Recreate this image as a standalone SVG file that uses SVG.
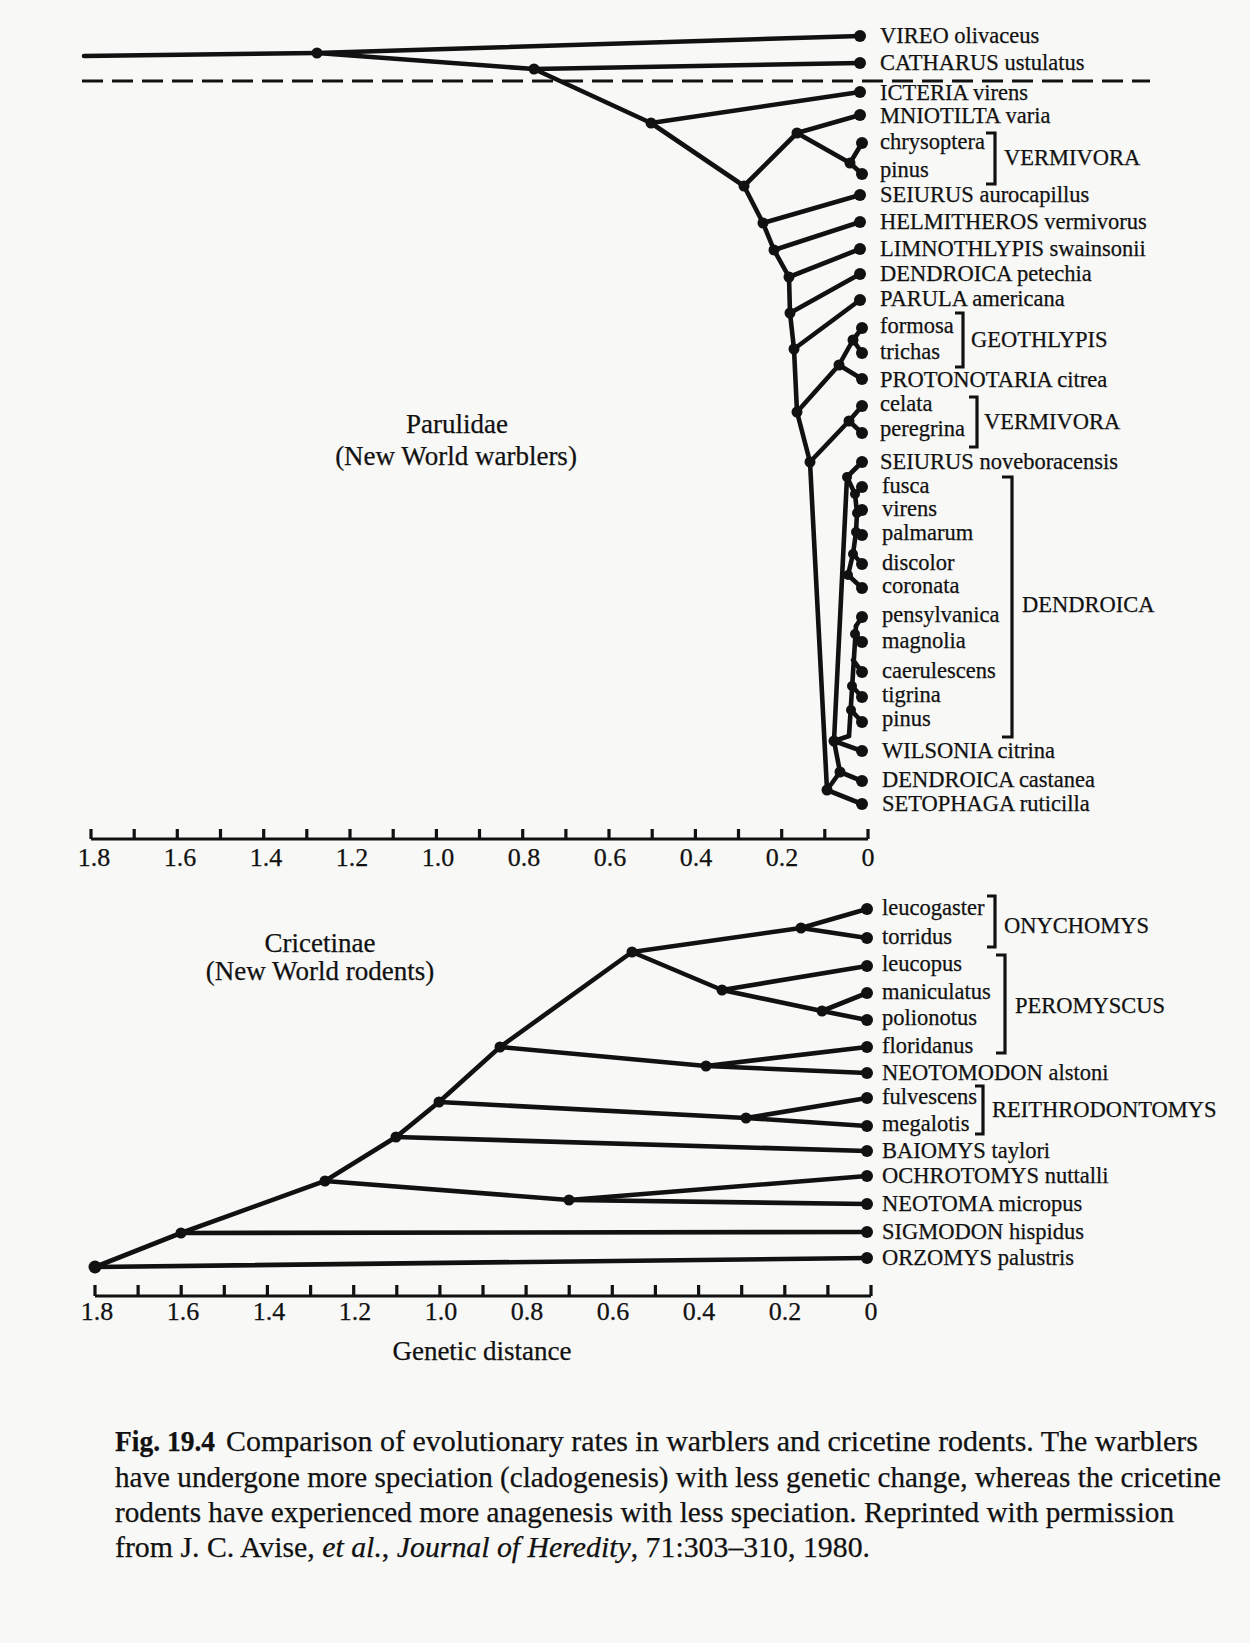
<svg xmlns="http://www.w3.org/2000/svg" width="1250" height="1643" viewBox="0 0 1250 1643">
<defs>
<style>
.e{stroke:#111;stroke-width:4.6;stroke-linecap:round;fill:none}
.ax{stroke:#111;stroke-width:3.2;fill:none}
.bk{stroke:#111;stroke-width:3.2;fill:none}
.d{fill:#111}
text{font-family:"Liberation Serif","Times New Roman",serif;fill:#111;stroke:#111;stroke-width:0.25}
.lb{font-size:22.5px}
.gn{font-size:22.5px}
.tk{font-size:26px;text-anchor:middle}
.ti{font-size:27px;text-anchor:middle}
.cap{font-size:29px}
</style>
</defs>
<rect width="1250" height="1643" fill="#f8f8f6"/>

<g id="connectors">
<!-- warbler tree -->
<line class="e" x1="84" y1="56" x2="317" y2="53"/>
<line class="e" x1="317" y1="53" x2="860" y2="36"/>
<line class="e" x1="317" y1="53" x2="534" y2="69"/>
<line class="e" x1="534" y1="69" x2="860" y2="63"/>
<line class="e" x1="534" y1="69" x2="651" y2="123"/>
<line class="e" x1="651" y1="123" x2="860" y2="92"/>
<line class="e" x1="651" y1="123" x2="744" y2="186"/>
<line class="e" x1="744" y1="186" x2="797" y2="133"/>
<line class="e" x1="797" y1="133" x2="860" y2="115"/>
<line class="e" x1="797" y1="133" x2="850" y2="163"/>
<line class="e" x1="850" y1="163" x2="862" y2="143"/>
<line class="e" x1="850" y1="163" x2="862" y2="174"/>
<line class="e" x1="744" y1="186" x2="763" y2="223"/>
<line class="e" x1="763" y1="223" x2="860" y2="195"/>
<line class="e" x1="763" y1="223" x2="774" y2="250"/>
<line class="e" x1="774" y1="250" x2="860" y2="222"/>
<line class="e" x1="774" y1="250" x2="789" y2="277"/>
<line class="e" x1="789" y1="277" x2="860" y2="249"/>
<line class="e" x1="789" y1="277" x2="790" y2="313"/>
<line class="e" x1="790" y1="313" x2="860" y2="274"/>
<line class="e" x1="790" y1="313" x2="794" y2="349"/>
<line class="e" x1="794" y1="349" x2="860" y2="300"/>
<line class="e" x1="794" y1="349" x2="797" y2="412"/>
<line class="e" x1="797" y1="412" x2="839" y2="365"/>
<line class="e" x1="839" y1="365" x2="853" y2="340"/>
<line class="e" x1="853" y1="340" x2="862" y2="328"/>
<line class="e" x1="853" y1="340" x2="862" y2="353"/>
<line class="e" x1="839" y1="365" x2="862" y2="379"/>
<line class="e" x1="797" y1="412" x2="810" y2="462"/>
<line class="e" x1="810" y1="462" x2="849" y2="421"/>
<line class="e" x1="849" y1="421" x2="862" y2="406"/>
<line class="e" x1="849" y1="421" x2="862" y2="433"/>
<line class="e" x1="810" y1="462" x2="827" y2="790"/>
<line class="e" x1="847" y1="477" x2="862" y2="462"/>
<line class="e" x1="847" y1="477" x2="834" y2="741"/>
<polyline class="e" points="847,477 855,494 857,513 856,532 853,554 848,575"/>
<line class="e" x1="855" y1="494" x2="862" y2="487"/>
<line class="e" x1="857" y1="513" x2="862" y2="510"/>
<line class="e" x1="856" y1="532" x2="862" y2="535"/>
<line class="e" x1="853" y1="554" x2="862" y2="564"/>
<line class="e" x1="848" y1="575" x2="862" y2="588"/>
<line class="e" x1="856" y1="626" x2="862" y2="617"/>
<line class="e" x1="856" y1="626" x2="849" y2="736"/>
<line class="e" x1="855" y1="634" x2="862" y2="642"/>
<line class="e" x1="853" y1="660" x2="862" y2="672"/>
<line class="e" x1="852" y1="686" x2="862" y2="697"/>
<line class="e" x1="851" y1="710" x2="862" y2="722"/>
<line class="e" x1="834" y1="741" x2="849" y2="736"/>
<line class="e" x1="834" y1="741" x2="862" y2="751"/>
<line class="e" x1="834" y1="741" x2="840" y2="772"/>
<line class="e" x1="840" y1="772" x2="862" y2="781"/>
<line class="e" x1="840" y1="772" x2="827" y2="790"/>
<line class="e" x1="827" y1="790" x2="862" y2="804"/>
<!-- rodent tree -->
<polyline class="e" points="95,1267 181,1233 325,1181 396,1137 439,1102 500,1047 632,952"/>
<line class="e" x1="95" y1="1267" x2="867" y2="1258"/>
<line class="e" x1="181" y1="1233" x2="867" y2="1232"/>
<line class="e" x1="325" y1="1181" x2="569" y2="1200"/>
<line class="e" x1="569" y1="1200" x2="867" y2="1176"/>
<line class="e" x1="569" y1="1200" x2="867" y2="1204"/>
<line class="e" x1="396" y1="1137" x2="867" y2="1151"/>
<line class="e" x1="439" y1="1102" x2="746" y2="1118"/>
<line class="e" x1="746" y1="1118" x2="867" y2="1098"/>
<line class="e" x1="746" y1="1118" x2="867" y2="1126"/>
<line class="e" x1="500" y1="1047" x2="706" y2="1066"/>
<line class="e" x1="706" y1="1066" x2="867" y2="1047"/>
<line class="e" x1="706" y1="1066" x2="867" y2="1073"/>
<line class="e" x1="632" y1="952" x2="801" y2="928"/>
<line class="e" x1="801" y1="928" x2="867" y2="909"/>
<line class="e" x1="801" y1="928" x2="867" y2="938"/>
<line class="e" x1="632" y1="952" x2="722" y2="990"/>
<line class="e" x1="722" y1="990" x2="867" y2="966"/>
<line class="e" x1="722" y1="990" x2="822" y2="1011"/>
<line class="e" x1="822" y1="1011" x2="867" y2="993"/>
<line class="e" x1="822" y1="1011" x2="867" y2="1020"/>
</g>

<!-- dashed separator -->
<g id="separator">
<line x1="82" y1="81" x2="1150" y2="81" stroke="#111" stroke-width="3.2" stroke-dasharray="21,9"/>
</g>

<!-- internal nodes, warblers -->
<g id="w-internal" class="d">
<circle cx="317" cy="53" r="5.5"/><circle cx="534" cy="69" r="5.5"/><circle cx="651" cy="123" r="5.5"/>
<circle cx="744" cy="186" r="5.5"/><circle cx="797" cy="133" r="5.5"/><circle cx="850" cy="163" r="5.5"/>
<circle cx="763" cy="223" r="5.5"/><circle cx="774" cy="250" r="5.5"/><circle cx="789" cy="277" r="5.5"/>
<circle cx="790" cy="313" r="5.5"/><circle cx="794" cy="349" r="5.5"/><circle cx="797" cy="412" r="5.5"/>
<circle cx="839" cy="365" r="5.5"/><circle cx="853" cy="340" r="5.5"/><circle cx="810" cy="462" r="5.5"/>
<circle cx="849" cy="421" r="5.5"/><circle cx="847" cy="477" r="5"/>
<circle cx="855" cy="494" r="5"/><circle cx="857" cy="513" r="5"/><circle cx="856" cy="532" r="5"/>
<circle cx="853" cy="554" r="5"/><circle cx="848" cy="575" r="5"/>
<circle cx="855" cy="634" r="5"/><circle cx="852" cy="686" r="5"/><circle cx="851" cy="710" r="5"/>
<circle cx="834" cy="741" r="5.5"/><circle cx="840" cy="772" r="5.5"/><circle cx="827" cy="790" r="5.5"/>
</g>

<!-- warbler leaves -->
<g id="vireo"><circle class="d" cx="860" cy="36" r="6"/><text class="lb" x="880" y="43">VIREO olivaceus</text></g>
<g id="catharus"><circle class="d" cx="860" cy="63" r="6"/><text class="lb" x="880" y="70">CATHARUS ustulatus</text></g>
<g id="icteria"><circle class="d" cx="860" cy="92" r="6"/><text class="lb" x="880" y="100">ICTERIA virens</text></g>
<g id="mniotilta"><circle class="d" cx="860" cy="115" r="6"/><text class="lb" x="880" y="123">MNIOTILTA varia</text></g>
<g id="chrysoptera"><circle class="d" cx="862" cy="143" r="6"/><text class="lb" x="880" y="149">chrysoptera</text></g>
<g id="pinus1"><circle class="d" cx="862" cy="174" r="6"/><text class="lb" x="880" y="177">pinus</text></g>
<g id="seiurus-a"><circle class="d" cx="860" cy="195" r="6"/><text class="lb" x="880" y="202">SEIURUS aurocapillus</text></g>
<g id="helmitheros"><circle class="d" cx="860" cy="222" r="6"/><text class="lb" x="880" y="229">HELMITHEROS vermivorus</text></g>
<g id="limnothlypis"><circle class="d" cx="860" cy="249" r="6"/><text class="lb" x="880" y="256">LIMNOTHLYPIS swainsonii</text></g>
<g id="dendroica-p"><circle class="d" cx="860" cy="274" r="6"/><text class="lb" x="880" y="281">DENDROICA petechia</text></g>
<g id="parula"><circle class="d" cx="860" cy="300" r="6"/><text class="lb" x="880" y="306">PARULA americana</text></g>
<g id="formosa"><circle class="d" cx="862" cy="328" r="6"/><text class="lb" x="880" y="333">formosa</text></g>
<g id="trichas"><circle class="d" cx="862" cy="353" r="6"/><text class="lb" x="880" y="359">trichas</text></g>
<g id="protonotaria"><circle class="d" cx="862" cy="379" r="6"/><text class="lb" x="880" y="387">PROTONOTARIA citrea</text></g>
<g id="celata"><circle class="d" cx="862" cy="406" r="6"/><text class="lb" x="880" y="411">celata</text></g>
<g id="peregrina"><circle class="d" cx="862" cy="433" r="6"/><text class="lb" x="880" y="436">peregrina</text></g>
<g id="seiurus-n"><circle class="d" cx="862" cy="462" r="6"/><text class="lb" x="880" y="469">SEIURUS noveboracensis</text></g>
<g id="fusca"><circle class="d" cx="862" cy="487" r="6"/><text class="lb" x="882" y="493">fusca</text></g>
<g id="virens"><circle class="d" cx="862" cy="510" r="6"/><text class="lb" x="882" y="516">virens</text></g>
<g id="palmarum"><circle class="d" cx="862" cy="535" r="6"/><text class="lb" x="882" y="540">palmarum</text></g>
<g id="discolor"><circle class="d" cx="862" cy="564" r="6"/><text class="lb" x="882" y="570">discolor</text></g>
<g id="coronata"><circle class="d" cx="862" cy="588" r="6"/><text class="lb" x="882" y="593">coronata</text></g>
<g id="pensylvanica"><circle class="d" cx="862" cy="617" r="6"/><text class="lb" x="882" y="622">pensylvanica</text></g>
<g id="magnolia"><circle class="d" cx="862" cy="642" r="6"/><text class="lb" x="882" y="648">magnolia</text></g>
<g id="caerulescens"><circle class="d" cx="862" cy="672" r="6"/><text class="lb" x="882" y="678">caerulescens</text></g>
<g id="tigrina"><circle class="d" cx="862" cy="697" r="6"/><text class="lb" x="882" y="702">tigrina</text></g>
<g id="pinus2"><circle class="d" cx="862" cy="722" r="6"/><text class="lb" x="882" y="726">pinus</text></g>
<g id="wilsonia"><circle class="d" cx="862" cy="751" r="6"/><text class="lb" x="882" y="758">WILSONIA citrina</text></g>
<g id="dendroica-c"><circle class="d" cx="862" cy="781" r="6"/><text class="lb" x="882" y="787">DENDROICA castanea</text></g>
<g id="setophaga"><circle class="d" cx="862" cy="804" r="6"/><text class="lb" x="882" y="811">SETOPHAGA ruticilla</text></g>

<!-- warbler genus brackets -->
<g id="vermivora1"><polyline class="bk" points="986,133 995,133 995,184 986,184"/><text class="gn" x="1004" y="165">VERMIVORA</text></g>
<g id="geothlypis"><polyline class="bk" points="955,313 963,313 963,367 955,367"/><text class="gn" x="971" y="347">GEOTHLYPIS</text></g>
<g id="vermivora2"><polyline class="bk" points="969,397 977,397 977,447 969,447"/><text class="gn" x="984" y="429">VERMIVORA</text></g>
<g id="dendroica"><polyline class="bk" points="1002,477 1012,477 1012,737 1002,737"/><text class="gn" x="1022" y="612">DENDROICA</text></g>

<g id="parulidae-title">
<text class="ti" x="457" y="433">Parulidae</text>
<text class="ti" x="456" y="465">(New World warblers)</text>
</g>

<!-- top axis -->
<g id="axis-top">
<path class="ax" d="M91,839 H868 M91,839 v-10 M134.2,839 v-10 M177.3,839 v-10 M220.5,839 v-10 M263.7,839 v-10 M306.8,839 v-10 M350,839 v-10 M393.2,839 v-10 M436.4,839 v-10 M479.5,839 v-10 M522.7,839 v-10 M565.9,839 v-10 M609,839 v-10 M652.2,839 v-10 M695.4,839 v-10 M738.5,839 v-10 M781.7,839 v-10 M824.8,839 v-10 M868,839 v-10"/>
<text class="tk" x="94" y="866">1.8</text>
<text class="tk" x="180" y="866">1.6</text>
<text class="tk" x="266" y="866">1.4</text>
<text class="tk" x="352" y="866">1.2</text>
<text class="tk" x="438" y="866">1.0</text>
<text class="tk" x="524" y="866">0.8</text>
<text class="tk" x="610" y="866">0.6</text>
<text class="tk" x="696" y="866">0.4</text>
<text class="tk" x="782" y="866">0.2</text>
<text class="tk" x="868" y="866">0</text>
</g>

<!-- rodent internal nodes -->
<g id="r-internal" class="d">
<circle cx="95" cy="1267" r="6.5"/><circle cx="181" cy="1233" r="5.5"/><circle cx="325" cy="1181" r="5.5"/>
<circle cx="396" cy="1137" r="5.5"/><circle cx="439" cy="1102" r="5.5"/><circle cx="500" cy="1047" r="5.5"/>
<circle cx="632" cy="952" r="5.5"/><circle cx="801" cy="928" r="5.5"/><circle cx="722" cy="990" r="5.5"/>
<circle cx="822" cy="1011" r="5.5"/><circle cx="706" cy="1066" r="5.5"/><circle cx="746" cy="1118" r="5.5"/>
<circle cx="569" cy="1200" r="5.5"/>
</g>

<!-- rodent leaves -->
<g id="leucogaster"><circle class="d" cx="867" cy="909" r="6"/><text class="lb" x="882" y="915">leucogaster</text></g>
<g id="torridus"><circle class="d" cx="867" cy="938" r="6"/><text class="lb" x="882" y="944">torridus</text></g>
<g id="leucopus"><circle class="d" cx="867" cy="966" r="6"/><text class="lb" x="882" y="971">leucopus</text></g>
<g id="maniculatus"><circle class="d" cx="867" cy="993" r="6"/><text class="lb" x="882" y="999">maniculatus</text></g>
<g id="polionotus"><circle class="d" cx="867" cy="1020" r="6"/><text class="lb" x="882" y="1025">polionotus</text></g>
<g id="floridanus"><circle class="d" cx="867" cy="1047" r="6"/><text class="lb" x="882" y="1053">floridanus</text></g>
<g id="neotomodon"><circle class="d" cx="867" cy="1073" r="6"/><text class="lb" x="882" y="1080">NEOTOMODON alstoni</text></g>
<g id="fulvescens"><circle class="d" cx="867" cy="1098" r="6"/><text class="lb" x="882" y="1104">fulvescens</text></g>
<g id="megalotis"><circle class="d" cx="867" cy="1126" r="6"/><text class="lb" x="882" y="1131">megalotis</text></g>
<g id="baiomys"><circle class="d" cx="867" cy="1151" r="6"/><text class="lb" x="882" y="1158">BAIOMYS taylori</text></g>
<g id="ochrotomys"><circle class="d" cx="867" cy="1176" r="6"/><text class="lb" x="882" y="1183">OCHROTOMYS nuttalli</text></g>
<g id="neotoma"><circle class="d" cx="867" cy="1204" r="6"/><text class="lb" x="882" y="1211">NEOTOMA micropus</text></g>
<g id="sigmodon"><circle class="d" cx="867" cy="1232" r="6"/><text class="lb" x="882" y="1239">SIGMODON hispidus</text></g>
<g id="orzomys"><circle class="d" cx="867" cy="1258" r="6"/><text class="lb" x="882" y="1265">ORZOMYS palustris</text></g>

<!-- rodent genus brackets -->
<g id="onychomys"><polyline class="bk" points="987,896 995,896 995,947 987,947"/><text class="gn" x="1004" y="933">ONYCHOMYS</text></g>
<g id="peromyscus"><polyline class="bk" points="996,955 1005,955 1005,1053 996,1053"/><text class="gn" x="1015" y="1013">PEROMYSCUS</text></g>
<g id="reithrodontomys"><polyline class="bk" points="975,1086 983,1086 983,1134 975,1134"/><text class="gn" x="992" y="1117">REITHRODONTOMYS</text></g>

<g id="cricetinae-title">
<text class="ti" x="320" y="952">Cricetinae</text>
<text class="ti" x="320" y="980">(New World rodents)</text>
</g>

<!-- bottom axis -->
<g id="axis-bottom">
<path class="ax" d="M95,1296 H871 M95,1296 v-11 M138.1,1296 v-11 M181.2,1296 v-11 M224.3,1296 v-11 M267.4,1296 v-11 M310.6,1296 v-11 M353.7,1296 v-11 M396.8,1296 v-11 M439.9,1296 v-11 M483,1296 v-11 M526.1,1296 v-11 M569.2,1296 v-11 M612.3,1296 v-11 M655.4,1296 v-11 M698.6,1296 v-11 M741.7,1296 v-11 M784.8,1296 v-11 M827.9,1296 v-11 M871,1296 v-11"/>
<text class="tk" x="97" y="1320">1.8</text>
<text class="tk" x="183" y="1320">1.6</text>
<text class="tk" x="269" y="1320">1.4</text>
<text class="tk" x="355" y="1320">1.2</text>
<text class="tk" x="441" y="1320">1.0</text>
<text class="tk" x="527" y="1320">0.8</text>
<text class="tk" x="613" y="1320">0.6</text>
<text class="tk" x="699" y="1320">0.4</text>
<text class="tk" x="785" y="1320">0.2</text>
<text class="tk" x="871" y="1320">0</text>
<text class="ti" x="482" y="1360">Genetic distance</text>
</g>

<!-- caption -->
<g id="caption">
<text class="cap" x="115" y="1451" font-weight="bold" textLength="100" lengthAdjust="spacingAndGlyphs">Fig. 19.4</text>
<text class="cap" x="226" y="1451" textLength="972" lengthAdjust="spacingAndGlyphs">Comparison of evolutionary rates in warblers and cricetine rodents. The warblers</text>
<text class="cap" x="115" y="1487" textLength="1106" lengthAdjust="spacingAndGlyphs">have undergone more speciation (cladogenesis) with less genetic change, whereas the cricetine</text>
<text class="cap" x="115" y="1522" textLength="1059" lengthAdjust="spacingAndGlyphs">rodents have experienced more anagenesis with less speciation. Reprinted with permission</text>
<text class="cap" x="115" y="1557" textLength="755" lengthAdjust="spacingAndGlyphs">from J. C. Avise, <tspan font-style="italic">et al.</tspan>, <tspan font-style="italic">Journal of Heredity</tspan>, 71:303–310, 1980.</text>
</g>
</svg>
